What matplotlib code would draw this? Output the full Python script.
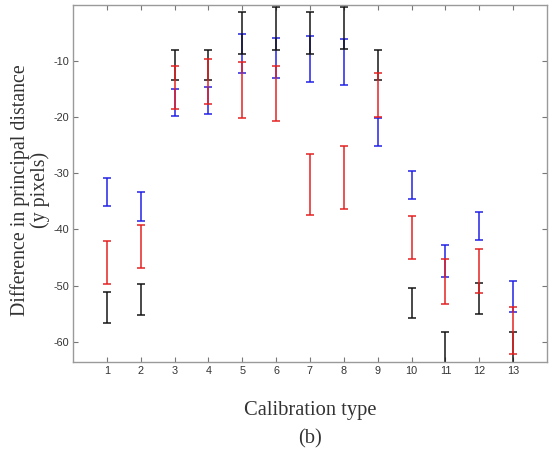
import numpy as np
import matplotlib
matplotlib.use("Agg")
import matplotlib.pyplot as plt

plt.rcParams['axes.unicode_minus'] = False

# calibration types on the x axis
cal_type = np.arange(1, 14)

# upper / lower ends of each range (y pixels)
blue_hi  = [-30.9, -33.4, -14.9, -14.6, -5.1, -5.8, -5.6, -6.1, -20.2, -29.6, -42.7, -36.9, -49.1]
blue_lo  = [-35.9, -38.5, -19.8, -19.5, -12.2, -13.0, -13.7, -14.2, -25.2, -34.5, -48.4, -41.9, -54.7]
red_hi   = [-42.0, -39.2, -10.8, -9.7, -10.2, -10.8, -26.5, -25.2, -12.1, -37.6, -45.3, -43.5, -53.8]
red_lo   = [-49.7, -46.9, -18.5, -17.6, -20.1, -20.7, -37.5, -36.4, -20.0, -45.3, -53.3, -51.3, -62.1]
black_hi = [-51.2, -49.7, -8.1, -8.1, -1.3, -0.3, -1.3, -0.3, -8.1, -50.4, -58.2, -49.6, -58.2]
black_lo = [-56.7, -55.2, -13.3, -13.3, -8.7, -8.0, -8.7, -7.9, -13.3, -55.8, -64.5, -55.1, -64.5]

x_ticks = list(range(1, 14))
y_ticks = [-60, -50, -40, -30, -20, -10]

SERIF = ['Liberation Serif', 'DejaVu Serif']

fig = plt.figure(figsize=(5.51, 4.50), dpi=100)
ax = fig.add_axes([0.1325, 0.1956, 0.8602, 0.7934])


def draw_range(hi, lo, color):
    hi = np.array(hi)
    lo = np.array(lo)
    mid = (hi + lo) / 2
    err = (hi - lo) / 2
    ax.errorbar(cal_type, mid, yerr=err, fmt='none', ecolor=color,
                elinewidth=1.2, capsize=3.2, capthick=1.2, alpha=0.9)


# draw order matters: blue underneath, black, then red on top
draw_range(blue_hi, blue_lo, '#1f1fe6')
draw_range(black_hi, black_lo, '#111111')
draw_range(red_hi, red_lo, '#e41f1f')

ax.set_xlim(0, 14)
ax.set_ylim(-63.6, 0)
ax.set_xticks(x_ticks)
ax.set_yticks(y_ticks)

for sp in ax.spines.values():
    sp.set_color('#9a9a9a')
    sp.set_linewidth(1.0)

ax.tick_params(direction='in', length=3.5, width=0.8, color='#777777',
               top=True, right=True, labelsize=7.8, labelcolor='#333333', pad=3)
for lab in ax.get_xticklabels() + ax.get_yticklabels():
    lab.set_family(['Liberation Sans', 'DejaVu Sans'])

# y label placed by hand so it sits where the original one does
fig.text(0.054, 0.578, 'Difference in principal distance\n(y pixels)',
         rotation=90, ha='center', va='center', multialignment='center',
         family=SERIF, fontsize=14.3, color='#333333', linespacing=1.0)

fig.text(0.563, 0.088, 'Calibration type', ha='center', va='center',
         family=SERIF, fontsize=14.8, color='#333333')
fig.text(0.563, 0.025, '(b)', ha='center', va='center',
         family=SERIF, fontsize=14.8, color='#333333')

fig.savefig('out.png', dpi=100)
